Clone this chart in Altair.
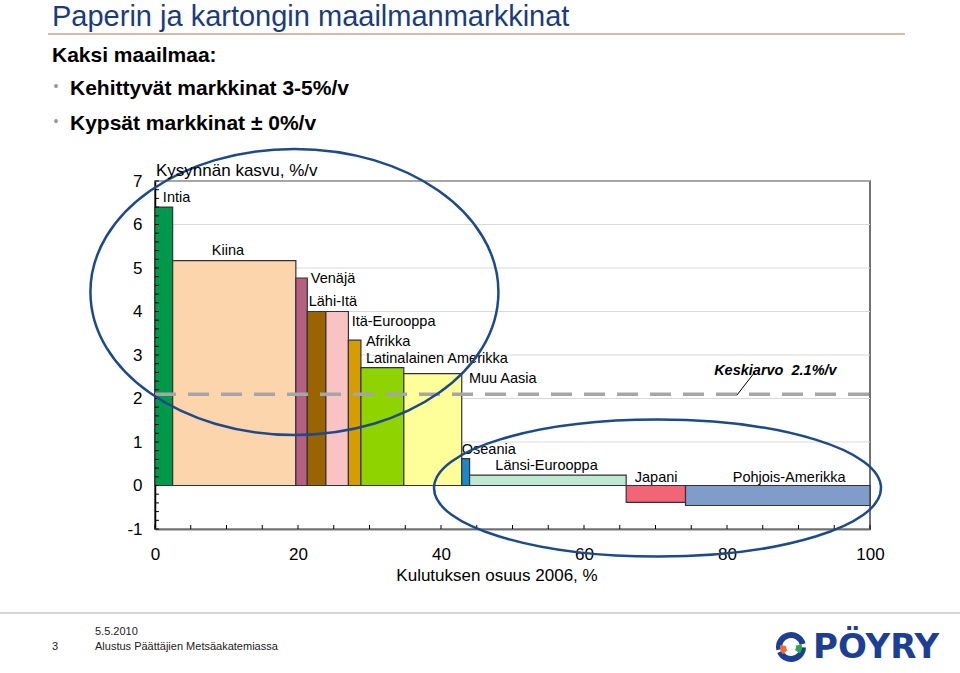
import altair as alt
import pandas as pd

# ---------------- data ----------------
regions = ["Intia", "Kiina", "Venäjä", "Lähi-Itä", "Itä-Eurooppa", "Afrikka",
           "Latinalainen Amerikka", "Muu Aasia", "Oseania", "Länsi-Eurooppa",
           "Japani", "Pohjois-Amerikka"]
share = [2.47, 17.23, 1.6, 2.6, 3.15, 1.75, 6.0, 8.1, 1.1, 21.9, 8.3, 25.8]
growth = [6.4, 5.17, 4.77, 4.0, 4.0, 3.34, 2.71, 2.57, 0.62, 0.24, -0.39, -0.46]
colors = ["#00994c", "#fcd5ac", "#b4607e", "#9a6400", "#f9c3c3", "#d69d00",
          "#8fd400", "#ffff99", "#1a88c9", "#bfe8d3", "#f26577", "#7f9ccb"]
label_x = [1.1, 10.2, 21.8, 21.5, 27.5, 29.5, 29.5, 43.9, 42.9, 47.6, 67.1, 80.8]
label_y = [6.6, 5.38, 4.75, 4.22, 3.76, 3.3, 2.91, 2.45, 0.81, 0.44, 0.17, 0.17]
label_align = ["left", "center", "left", "left", "left", "left", "left", "left",
               "left", "left", "left", "left"]

average = 2.1
avg_label = "Keskiarvo\u00a0 2.1%/v"
x_ticks = [0, 20, 40, 60, 80, 100]
y_ticks = [-1, 0, 1, 2, 3, 4, 5, 6, 7]

# ellipses (center x, center y in data units, x-radius px, y-radius px)
ell_cx = [19.5, 70.28]
ell_cy = [4.45, -0.06]
ell_rx = [204, 223.5]
ell_ry = [143, 68.5]

x0, x1, acc = [], [], 0.0
for s in share:
    x0.append(acc)
    acc += s
    x1.append(acc)

bars = pd.DataFrame({"region": regions, "x0": x0, "x1": x1, "g": growth,
                     "zero": [0] * len(regions), "color": colors})
labels = pd.DataFrame({"region": regions, "lx": label_x, "ly": label_y,
                       "align": label_align})

W, H = 715, 348
FONT = "Liberation Sans"
xs = alt.Scale(domain=[0, 100], nice=False, zero=False)
ys = alt.Scale(domain=[-1, 7], nice=False, zero=False)

# ---------------- base layers ----------------
grid = alt.Chart(pd.DataFrame({"t": y_ticks})).mark_rule(
    color="#d9d9d9", strokeWidth=1).encode(
    y=alt.Y("t:Q", scale=ys,
            axis=alt.Axis(values=y_ticks, title=None, ticks=False, grid=False,
                          labelFontSize=17, labelFont=FONT, labelColor="#000",
                          labelExpr="'' + datum.value",
                          labelPadding=13, domainColor="#000", domainWidth=1.5)),
    x=alt.value(0), x2=alt.value(W))

bar_layer = alt.Chart(bars).mark_rect(stroke="#333", strokeWidth=1.2).encode(
    x=alt.X("x0:Q", scale=xs,
            axis=alt.Axis(values=x_ticks, title=None, ticks=False, grid=False,
                          labelFontSize=17, labelFont=FONT, labelColor="#000",
                          labelPadding=17, domainColor="#000", domainWidth=1.5,
                          labelFlush=False)),
    x2="x1:Q",
    y=alt.Y("zero:Q", scale=ys),
    y2="g:Q",
    color=alt.Color("color:N", scale=None))

avg_layer = alt.Chart(pd.DataFrame({"a": [average]})).mark_rule(
    color="#a6a6a6", strokeWidth=3.5, strokeDash=[21, 12]).encode(
    y=alt.Y("a:Q", scale=ys), x=alt.value(0), x2=alt.value(W))

ytk = [round(-1 + 0.2 * i, 2) for i in range(41)]
ytick_layer = alt.Chart(pd.DataFrame({"t": ytk})).mark_rule(
    color="#000", strokeWidth=1).encode(
    y=alt.Y("t:Q", scale=ys), x=alt.value(0), x2=alt.value(4))

xtk = list(range(0, 101, 5))
xtick_layer = alt.Chart(pd.DataFrame({"t": xtk})).mark_rule(
    color="#000", strokeWidth=1).encode(
    x=alt.X("t:Q", scale=xs), y=alt.value(H), y2=alt.value(H - 4))

lbl_layers = []
for al in ["left", "center"]:
    sub = labels[labels["align"] == al]
    lbl_layers.append(alt.Chart(sub).mark_text(
        align=al, baseline="middle", font=FONT, fontSize=14.5, color="#000").encode(
        x=alt.X("lx:Q", scale=xs), y=alt.Y("ly:Q", scale=ys), text="region:N"))

avg_txt = alt.Chart(pd.DataFrame({"x": [78.2], "y": [2.63], "t": [avg_label]})).mark_text(
    align="left", baseline="middle", font=FONT, fontSize=14.5, fontWeight="bold",
    fontStyle="italic", color="#000").encode(
    x=alt.X("x:Q", scale=xs), y=alt.Y("y:Q", scale=ys), text="t:N")

leader = alt.Chart(pd.DataFrame({"x": [81.4], "y": [2.08], "x2": [83.9], "y2": [2.61]})).mark_rule(
    color="#000", strokeWidth=1).encode(
    x=alt.X("x:Q", scale=xs), y=alt.Y("y:Q", scale=ys), x2="x2:Q", y2="y2:Q")

k = 0.5523


def ell_path(r):
    return (f"M 1 0 C 1 {k*r:.4f} {k:.4f} {r:.4f} 0 {r:.4f} "
            f"C {-k:.4f} {r:.4f} -1 {k*r:.4f} -1 0 "
            f"C -1 {-k*r:.4f} {-k:.4f} {-r:.4f} 0 {-r:.4f} "
            f"C {k:.4f} {-r:.4f} 1 {-k*r:.4f} 1 0 Z")


ell_layers = []
for cx, cy, rx, ry in zip(ell_cx, ell_cy, ell_rx, ell_ry):
    ell_layers.append(alt.Chart(pd.DataFrame({"x": [cx], "y": [cy]})).mark_point(
        shape=ell_path(ry / rx), size=(2 * rx) ** 2, filled=False,
        stroke="#1d4a8a", strokeWidth=2.5, opacity=1).encode(
        x=alt.X("x:Q", scale=xs), y=alt.Y("y:Q", scale=ys)))

# ---------------- page decorations (pixel offsets from plot origin) ----------------
one = pd.DataFrame({"d": [0]})


def ptext(txt, x, y, size, weight="normal", color="#000", font=FONT, baseline="alphabetic",
          align="left"):
    return alt.Chart(one).mark_text(
        text=txt, align=align, baseline=baseline, font=font, fontSize=size,
        fontWeight=weight, color=color).encode(x=alt.value(x), y=alt.value(y))


def prule(x, x2, y, color, w):
    return alt.Chart(one).mark_rule(color=color, strokeWidth=w).encode(
        x=alt.value(x), x2=alt.value(x2), y=alt.value(y))


deco = [
    ptext("Paperin ja kartongin maailmanmarkkinat", -103, -155, 29, color="#1a3c7c"),
    prule(-107, 750, -147, "#d9b9aa", 2),
    ptext("Kaksi maailmaa:", -103, -119, 21, "bold"),
    ptext("\u2022", -99, -94, 14, color="#9a9a9a", baseline="middle", align="center"),
    ptext("Kehittyvät markkinat 3-5%/v", -85, -86, 21, "bold"),
    ptext("\u2022", -99, -59, 14, color="#9a9a9a", baseline="middle", align="center"),
    ptext("Kypsät markkinat ± 0%/v", -85, -51, 21, "bold"),
    ptext("Kysynnän kasvu, %/v", 1, -5, 17),
    ptext("Kulutuksen osuus 2006, %", 342, 395, 17, baseline="middle", align="center"),
    prule(-155, 805, 432, "#d6d6d6", 2),
    ptext("5.5.2010", -60, 451, 11, color="#222", baseline="middle"),
    ptext("3", -103, 466, 11, color="#222", baseline="middle"),
    ptext("Alustus Päättäjien Metsäakatemiassa", -60, 466, 11, color="#222", baseline="middle"),
    ptext("PÖYRY", 658, 467, 34, "bold", color="#1c3f94", font="DejaVu Sans", baseline="middle"),
]

# logo icon arcs
logo_arcs = [
    (4.5, 7.6, 15, 9, "#1c3f94"),
    (1.6, 4.3, 15, 9, "#1c3f94"),
    (4.0, 4.9, 11, 5, "#f26a2e"),
    (1.3, 2.2, 11, 5, "#2ea84a"),
]
for t1, t2, r1, r2, c in logo_arcs:
    deco.append(alt.Chart(one).mark_arc(theta=t1, theta2=t2, radius=r1, radius2=r2,
                                        color=c).encode(x=alt.value(636), y=alt.value(466)))

chart = alt.layer(
    grid, bar_layer, avg_layer, ytick_layer, xtick_layer, *lbl_layers, avg_txt, leader,
    *ell_layers, *deco
).properties(
    width=W, height=H,
    autosize=alt.AutoSizeParams(type="none"),
    padding={"left": 155, "top": 181, "right": 90, "bottom": 144},
    background="white",
).configure_view(stroke="#444", strokeWidth=1.5)

chart.save("out.html", embed_options={"renderer": "svg", "actions": False})
